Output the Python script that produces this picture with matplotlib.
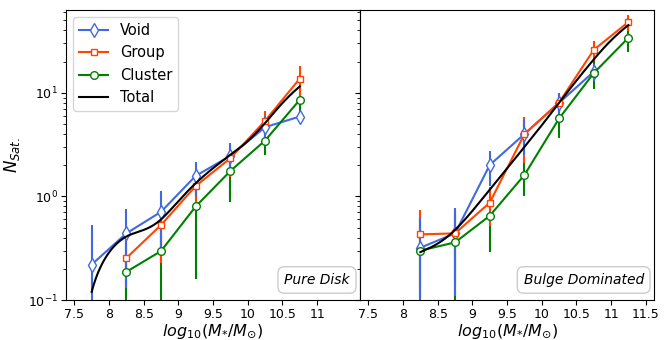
import numpy as np
import matplotlib
matplotlib.use('Agg')
import matplotlib.pyplot as plt

# bin centres, log10(M*/Msun)
mass_disk = [7.75, 8.25, 8.75, 9.25, 9.75, 10.25, 10.75]
mass_bulge = [8.25, 8.75, 9.25, 9.75, 10.25, 10.75, 11.25]

# Pure Disk
void_disk = [0.22, 0.44, 0.71, 1.58, 2.46, 4.66, 5.9]
void_disk_err = [0.31, 0.31, 0.42, 0.56, 0.85, 1.3, 0.6]
group_disk = [np.nan, 0.254, 0.53, 1.26, 2.34, 5.36, 13.7]
group_disk_err = [np.nan, 0.11, 0.3, 0.5, 0.8, 1.34, 4.3]
cluster_disk = [np.nan, 0.187, 0.297, 0.80, 1.76, 3.46, 8.55]
cluster_disk_err = [np.nan, 0.19, 0.3, 0.64, 0.87, 0.94, 2.5]
total_disk = [0.12, 0.41, 0.60, 1.34, 2.52, 5.1, 11.5]

# Bulge Dominated
void_bulge = [0.32, 0.44, 2.01, 4.0, 8.0, 16.0, np.nan]
void_bulge_err = [0.3, 0.33, 0.76, 1.5, 2.0, 3.0, np.nan]
group_bulge = [0.43, 0.44, 0.87, 3.99, 8.06, 26.0, 48.2]
group_bulge_err = [0.31, 0.3, 0.35, 1.9, 1.65, 5.8, 8.5]
cluster_bulge = [0.30, 0.36, 0.65, 1.61, 5.65, 15.5, 34.0]
cluster_bulge_err = [0.3, 0.3, 0.36, 0.6, 2.0, 4.6, 9.3]
total_bulge = [0.29, 0.475, 1.16, 3.0, 8.0, 21.0, 45.0]

xticks_left = [7.5, 8, 8.5, 9, 9.5, 10, 10.5, 11]
xticks_right = [7.5, 8, 8.5, 9, 9.5, 10, 10.5, 11, 11.5]


def natural_spline(x, y, xs):
    # smooth line through the points (natural cubic spline)
    x = np.asarray(x, float)
    y = np.asarray(y, float)
    n = len(x)
    h = np.diff(x)
    A = np.zeros((n, n))
    r = np.zeros(n)
    A[0, 0] = 1
    A[-1, -1] = 1
    for i in range(1, n - 1):
        A[i, i - 1] = h[i - 1]
        A[i, i] = 2 * (h[i - 1] + h[i])
        A[i, i + 1] = h[i]
        r[i] = 6 * ((y[i + 1] - y[i]) / h[i] - (y[i] - y[i - 1]) / h[i - 1])
    M = np.linalg.solve(A, r)
    idx = np.clip(np.searchsorted(x, xs) - 1, 0, n - 2)
    x0, x1 = x[idx], x[idx + 1]
    hh = x1 - x0
    a = (x1 - xs) / hh
    b = (xs - x0) / hh
    return (a * y[idx] + b * y[idx + 1]
            + ((a ** 3 - a) * M[idx] + (b ** 3 - b) * M[idx + 1]) * hh ** 2 / 6)


fig = plt.figure(figsize=(6.71, 3.4), dpi=100)
ax1 = fig.add_axes([0.0984, 0.1176, 0.4382, 0.853])
ax2 = fig.add_axes([0.5366, 0.1176, 0.4382, 0.853], sharey=ax1)

panels = [
    (ax1, mass_disk, void_disk, void_disk_err, group_disk, group_disk_err,
     cluster_disk, cluster_disk_err, total_disk, 'Pure Disk', xticks_left),
    (ax2, mass_bulge, void_bulge, void_bulge_err, group_bulge, group_bulge_err,
     cluster_bulge, cluster_bulge_err, total_bulge, 'Bulge Dominated', xticks_right),
]

for ax, m, v, ve, g, ge, c, ce, t, name, xt in panels:
    m = np.array(m)
    # error bars: cluster under group under void
    ax.errorbar(m, c, yerr=ce, fmt='none', ecolor='green', elinewidth=1.5, zorder=1)
    ax.errorbar(m, g, yerr=ge, fmt='none', ecolor='orangered', elinewidth=1.5, zorder=1.1)
    ax.errorbar(m, v, yerr=ve, fmt='none', ecolor='royalblue', elinewidth=1.5, zorder=1.2)
    ax.plot(m, v, '-', marker='d', color='royalblue', mfc='white', ms=7, lw=1.5, label='Void', zorder=3)
    ax.plot(m, g, '-', marker='s', color='orangered', mfc='white', ms=5, lw=1.5, label='Group', zorder=3)
    ax.plot(m, c, '-', marker='o', color='green', mfc='white', ms=5.5, lw=1.5, label='Cluster', zorder=3)
    xs = np.linspace(m[0], m[-1], 200)
    ax.plot(xs, natural_spline(m, t, xs), color='black', lw=1.5, label='Total', zorder=4)
    ax.set_yscale('log')
    ax.set_xlim(7.38, 11.62)
    ax.set_xticks(xt)
    ax.set_xticklabels(['%g' % x for x in xt])
    ax.tick_params(labelsize=9, pad=2.5)
    ax.set_xlabel(r'$log_{10}(M_{*}/M_{\odot})$', fontsize=11.5, labelpad=1)
    ax.text(0.965, 0.045, name, transform=ax.transAxes, ha='right', va='bottom',
            fontsize=10, style='italic',
            bbox=dict(boxstyle='round,pad=0.45', fc='white', ec='0.8'))

ax1.set_ylim(0.1, 63)
ax1.set_ylabel(r'$N_{Sat.}$', fontsize=12)
ax1.legend(loc='upper left', fontsize=10.5)
ax2.tick_params(labelleft=False)

fig.savefig('out.png', dpi=100)
